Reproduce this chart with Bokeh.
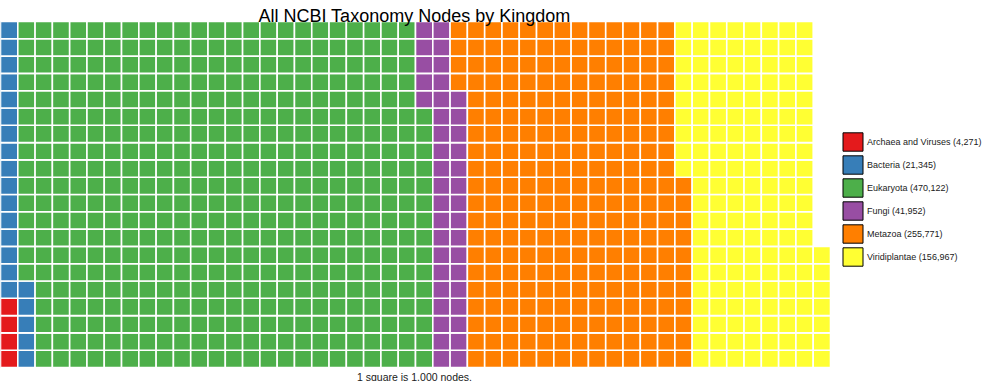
from bokeh.plotting import figure
from bokeh.models import ColumnDataSource, Range1d, Legend, LegendItem, Label
from bokeh.embed import file_html
from bokeh.resources import INLINE

# ---- data ----
categories = ["Archaea and Viruses", "Bacteria", "Eukaryota", "Fungi", "Metazoa", "Viridiplantae"]
node_counts = [4271, 21345, 470122, 41952, 255771, 156967]
colors = ["#E41A1C", "#377EB8", "#4DAF4A", "#984EA3", "#FF7F00", "#FFFF33"]
nodes_per_square = 1000
n_rows = 20

title_text = "All NCBI Taxonomy Nodes by Kingdom"
caption_text = "1 square is 1,000 nodes."

# ---- layout ----
W, H = 985, 381
squares = [c // nodes_per_square for c in node_counts]
total = sum(squares)
n_cols = -(-total // n_rows)

grid_px = 830  # frame pixels used by the grid horizontally
px_x = grid_px / n_cols
top_pad, bottom_pad = 21, 14
px_y = (H - top_pad - bottom_pad) / n_rows

p = figure(width=W, height=H, output_backend="svg", toolbar_location=None,
           x_range=Range1d(0, W / px_x),
           y_range=Range1d(-bottom_pad / px_y, n_rows + top_pad / px_y),
           min_border=0, min_border_left=0, min_border_right=0,
           min_border_top=0, min_border_bottom=0)
p.axis.visible = False
p.grid.visible = False
p.outline_line_color = None
p.background_fill_color = "white"

items = []
idx = 0
for name, cnt, n, col in zip(categories, node_counts, squares, colors):
    xs, ys = [], []
    for k in range(n):
        i = idx + k
        xs.append(i // n_rows + 0.5)
        ys.append(i % n_rows + 0.5)
    idx += n
    src = ColumnDataSource(dict(x=xs, y=ys))
    # legend swatch renderer (hidden underneath the tiles)
    key_src = ColumnDataSource(dict(x=xs[:1], y=ys[:1]))
    key = p.rect(x="x", y="y", width=0.4, height=0.4, source=key_src,
                 fill_color=col, line_color="black", line_width=1, level="underlay")
    p.rect(x="x", y="y", width=1, height=1, source=src,
           fill_color=col, line_color="white", line_width=1.6)
    items.append(LegendItem(label=f"{name} ({cnt:,})", renderers=[key]))

legend = Legend(items=items, location=(840, 113), glyph_width=25, glyph_height=23,
                spacing=0, padding=0, margin=0, border_line_color=None,
                background_fill_alpha=0, label_standoff=2,
                label_text_font="Liberation Sans", label_text_font_size="9px",
                label_text_color="#1a1a1a", label_height=20)
p.add_layout(legend)

center_x = 414
p.add_layout(Label(x=center_x, y=H - 15, x_units="screen", y_units="screen",
                   text=title_text, text_align="center", text_baseline="alphabetic",
                   text_font="Liberation Sans", text_font_size="18px", text_color="black"))
p.add_layout(Label(x=center_x, y=5, x_units="screen", y_units="screen",
                   text=caption_text, text_align="center", text_baseline="alphabetic",
                   text_font="Liberation Sans", text_font_size="10.5px", text_color="#1a1a1a"))

open("out.html", "w").write(file_html(p, INLINE))
